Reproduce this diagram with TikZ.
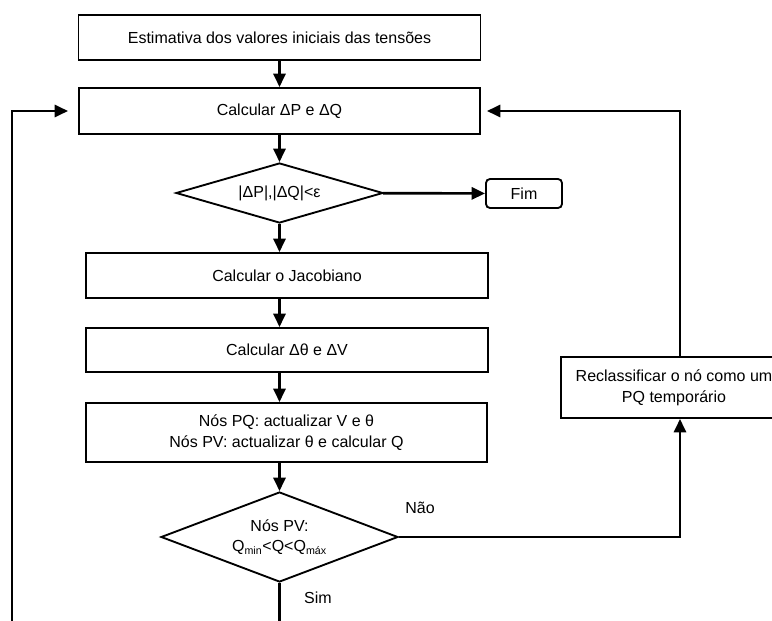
\documentclass[tikz,border=0pt]{standalone}
\usepackage{fontspec}
\setmainfont{Liberation Sans}
\usetikzlibrary{arrows.meta, shapes.geometric, calc}

\begin{document}
\begin{tikzpicture}[
  x=0.75pt, y=-0.75pt,
  >={Triangle[length=10pt, width=9pt]},
  font=\fontsize{12}{15.5}\selectfont,
  stepbox/.style={draw, line width=1.4pt, align=center, inner sep=0pt},
  testbox/.style={draw, diamond, line width=1.4pt, align=center, inner sep=0pt, aspect=3},
  flow/.style={->, line width=2pt},
  plain/.style={line width=1.6pt},
  ]
  \useasboundingbox (0,0) rectangle (772,621);
  \clip (0,0) rectangle (772,621);
  \def\Cx{279.5}

  % Main column
  \node[stepbox, minimum width=301.5pt, minimum height=33.75pt] (init) at (\Cx,37.5)
    {Estimativa dos valores iniciais das tensões};
  \node[stepbox, minimum width=300.75pt, minimum height=34.5pt] (calcPQ) at (\Cx,111)
    {Calcular ΔP e ΔQ};
  \node[testbox, minimum width=155.25pt, minimum height=45pt] (conv) at (\Cx,193)
    {|ΔP|,|ΔQ|<ε};
  \node[stepbox, rounded corners=3pt, minimum width=57pt, minimum height=21.75pt] (fim) at (524,193.5)
    {Fim};
  \node[stepbox, minimum width=301.5pt, minimum height=33.75pt] (jac) at (287,275.5)
    {Calcular o Jacobiano};
  \node[stepbox, minimum width=301.5pt, minimum height=33pt] (dtheta) at (287,350)
    {Calcular Δθ e ΔV};
  \node[stepbox, minimum width=300.75pt, minimum height=44.25pt] (upd) at (286.5,432.5)
    {Nós PQ: actualizar V e θ\\Nós PV: actualizar θ e calcular Q};
  \node[testbox, minimum width=177.75pt, minimum height=67.5pt] (pvlim) at (\Cx,537)
    {Nós PV:\\Q\textsubscript{min}<Q<Q\textsubscript{máx}};

  % Side branch
  \node[stepbox, minimum width=169.5pt, minimum height=45.75pt] (reclass) at (674,387.5)
    {Reclassificar o nó como um\\PQ temporário};
  \node (lblNao) at (420,508) {Não};
  \node (lblSim) at (318,598) {Sim};

  \coordinate (corner) at (680,537);
  \coordinate (loopbot) at (12,630);
  \coordinate (simend) at (\Cx,630);

  % Connectors
  \draw[flow] (init) -- (calcPQ);
  \draw[flow] (calcPQ) -- (conv);
  \draw[flow] (conv) -- (fim);
  \draw[flow] (conv.south) -- (conv.south |- jac.north);
  \draw[flow] (conv.south |- jac.south) -- (conv.south |- dtheta.north);
  \draw[flow] (conv.south |- dtheta.south) -- (conv.south |- upd.north);
  \draw[flow] (conv.south |- upd.south) -- (pvlim.north);
  \draw[flow] (pvlim.east) -- (corner) -- (corner |- reclass.south);
  \draw[flow, shorten >=4.5pt] (corner |- reclass.north) |- (calcPQ.east);
  \draw[flow, shorten >=7.5pt] (loopbot) |- (calcPQ.west);
  \draw[plain] (pvlim.south) -- (simend);
\end{tikzpicture}
\end{document}
